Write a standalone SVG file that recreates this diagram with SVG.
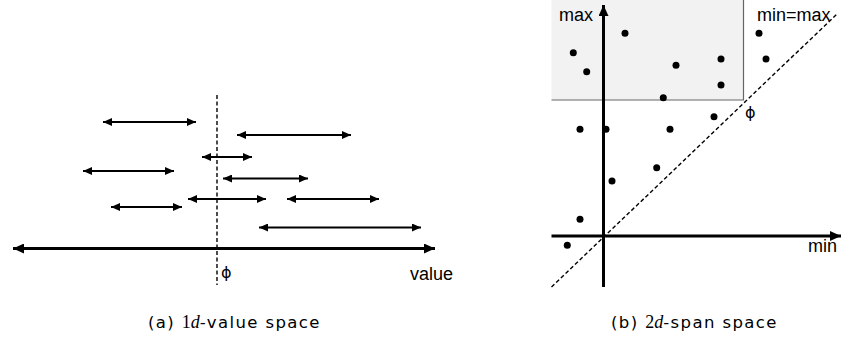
<svg xmlns="http://www.w3.org/2000/svg" width="842" height="343" viewBox="0 0 842 343">
<style>
.iv{stroke:#000;stroke-width:2.2;fill:none;marker-start:url(#hs);marker-end:url(#hs)}
.ax{stroke:#000;stroke-width:3;fill:none}
.dash{stroke:#000;stroke-width:1.4;stroke-dasharray:4,2.5;fill:none}
.dot{fill:#000}
.t{font-family:"Liberation Sans",Arial,sans-serif;font-size:18px;fill:#000}
.phi{font-family:"DejaVu Sans",sans-serif;font-size:16px;fill:#000}
.cap{font-family:"DejaVu Sans","Liberation Sans",sans-serif;font-size:16.5px;fill:#000;letter-spacing:1.4px}
.m{font-family:"Liberation Serif","Times New Roman",serif;font-size:18px;letter-spacing:0}
</style>
<defs>
<marker id="hs" markerUnits="userSpaceOnUse" markerWidth="10" markerHeight="8" refX="9" refY="4" orient="auto-start-reverse">
<path d="M0,0 L9,4 L0,8 z" fill="#000"/>
</marker>
<marker id="hb" markerUnits="userSpaceOnUse" markerWidth="12" markerHeight="10" refX="11" refY="5" orient="auto-start-reverse">
<path d="M0,0 L11,5 L0,10 z" fill="#000"/>
</marker>
</defs>
<rect width="842" height="343" fill="#fff"/>

<g id="panel-a">
<g id="connectors-a">
<line class="dash" x1="217" y1="95" x2="217" y2="285"/>
<line class="ax" x1="13" y1="248.5" x2="435" y2="248.5" marker-start="url(#hb)" marker-end="url(#hb)"/>
<line class="iv" x1="103" y1="122" x2="196" y2="122"/>
<line class="iv" x1="237" y1="135" x2="351" y2="135"/>
<line class="iv" x1="202" y1="157" x2="252" y2="157"/>
<line class="iv" x1="83" y1="171" x2="174" y2="171"/>
<line class="iv" x1="223" y1="178.5" x2="308" y2="178.5"/>
<line class="iv" x1="188" y1="199" x2="266" y2="199"/>
<line class="iv" x1="287" y1="199" x2="379" y2="199"/>
<line class="iv" x1="111" y1="207" x2="182" y2="207"/>
<line class="iv" x1="259" y1="227.5" x2="421" y2="227.5"/>
</g>
<g id="label-phi-a"><text class="phi" x="221" y="278">ϕ</text></g>
<g id="label-value"><text class="t" x="410" y="280">value</text></g>
<g id="caption-a"><text class="cap" x="148" y="328">(a)  <tspan class="m">1<tspan font-style="italic">d</tspan></tspan>-value space</text></g>
</g>

<g id="panel-b">
<g id="region">
<rect x="551.5" y="0" width="192" height="100" fill="#f2f2f2"/>
<polyline points="743.5,0 743.5,100 551.5,100" fill="none" stroke="#666" stroke-width="1.2"/>
</g>
<g id="connectors-b">
<line class="dash" x1="551.5" y1="287" x2="838" y2="13"/>
<line class="ax" x1="603.5" y1="287" x2="603.5" y2="5" marker-end="url(#hb)"/>
<line class="ax" x1="551.5" y1="236" x2="841" y2="236" marker-end="url(#hb)"/>
</g>
<g id="points">
<circle class="dot" cx="625" cy="33.3" r="3.5"/>
<circle class="dot" cx="573.3" cy="52.7" r="3.5"/>
<circle class="dot" cx="586.7" cy="71.7" r="3.5"/>
<circle class="dot" cx="676" cy="65.3" r="3.5"/>
<circle class="dot" cx="721" cy="59" r="3.5"/>
<circle class="dot" cx="721" cy="85" r="3.5"/>
<circle class="dot" cx="663.3" cy="97.7" r="3.5"/>
<circle class="dot" cx="759" cy="33.3" r="3.5"/>
<circle class="dot" cx="766" cy="59" r="3.5"/>
<circle class="dot" cx="580" cy="129.3" r="3.5"/>
<circle class="dot" cx="606" cy="129.3" r="3.5"/>
<circle class="dot" cx="670" cy="129.3" r="3.5"/>
<circle class="dot" cx="714" cy="116.7" r="3.5"/>
<circle class="dot" cx="656.7" cy="167.7" r="3.5"/>
<circle class="dot" cx="612" cy="181" r="3.5"/>
<circle class="dot" cx="580" cy="219.3" r="3.5"/>
<circle class="dot" cx="567.3" cy="245.3" r="3.5"/>
</g>
<g id="label-max"><text class="t" x="559" y="21">max</text></g>
<g id="label-minmax"><text class="t" x="757" y="21">min=max</text></g>
<g id="label-phi-b"><text class="phi" x="745" y="118">ϕ</text></g>
<g id="label-min"><text class="t" x="808" y="252">min</text></g>
<g id="caption-b"><text class="cap" x="611" y="328">(b)  <tspan class="m">2<tspan font-style="italic">d</tspan></tspan>-span space</text></g>
</g>
</svg>
